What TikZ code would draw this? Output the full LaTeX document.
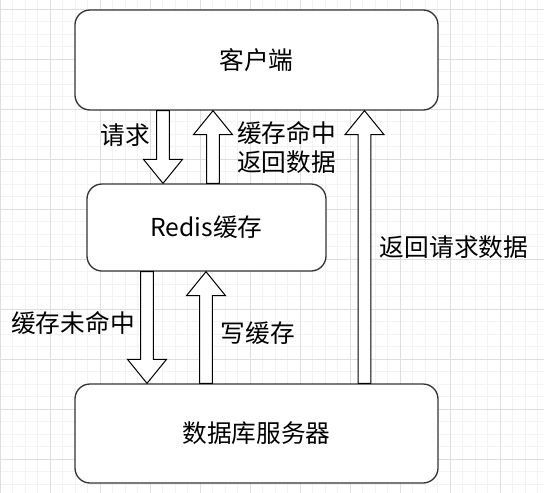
\documentclass[tikz,border=0pt]{standalone}
\usepackage{fontspec}
\setmainfont{Noto Sans CJK SC}
\usetikzlibrary{positioning,calc}
\definecolor{gridminor}{RGB}{243,243,243}
\definecolor{gridmajor}{RGB}{222,222,222}
\definecolor{boxline}{RGB}{51,51,51}

\tikzset{
  box/.style={draw=boxline, line width=1.3pt, rounded corners=15pt, fill=white,
    inner sep=0pt, font=\fontsize{24.7}{29}\selectfont},
  blockarr/.style={draw=black, line width=1pt, fill=white, line join=miter},
  lbl/.style={font=\fontsize{24.7}{29}\selectfont, inner sep=0pt}
}
% block arrow from #1 to #2 (tip at #2)
\newcommand{\blockarrow}[2]{%
  \coordinate (hb) at ($(#2)!24pt!(#1)$);
  \draw[blockarr] ($(#1)!6.3pt!90:(#2)$) -- ($(hb)!6.3pt!90:(#2)$)
    -- ($(hb)!19.5pt!90:(#2)$) -- (#2) -- ($(hb)!19.5pt!-90:(#2)$)
    -- ($(hb)!6.3pt!-90:(#2)$) -- ($(#1)!6.3pt!-90:(#2)$) -- cycle;}

\begin{document}
\begin{tikzpicture}[x=1pt,y=-1pt]
    \useasboundingbox (0,0) rectangle (544,493);
    \fill[white] (0,0) rectangle (544,493);
    % grid
    \foreach \x in {0,12.5,...,544}
      \draw[gridminor] (\x,0) -- (\x,493);
    \foreach \y in {-3.5,9,...,493}
      \draw[gridminor] (0,\y) -- (544,\y);
    \foreach \x in {0,50,...,544}
      \draw[gridmajor] (\x,0) -- (\x,493);
    \foreach \y in {9,59,...,493}
      \draw[gridmajor] (0,\y) -- (544,\y);
    % boxes
    \node[box, minimum width=363pt, minimum height=100pt] (client) at (256.5,60) {客户端};
    \node[box, minimum width=239pt, minimum height=87pt] (redis) at (206.5,227.5) {Redis缓存};
    \node[box, minimum width=363pt, minimum height=99pt] (db) at (256.5,433.5) {数据库服务器};
    % arrow ends
    \coordinate (reqA) at (163,0 |- client.south);
    \coordinate (reqB) at (163,0 |- redis.north);
    \coordinate (hitA) at (213,0 |- redis.north);
    \coordinate (hitB) at (213,0 |- client.south);
    \coordinate (missA) at (147,0 |- redis.south);
    \coordinate (missB) at (147,0 |- db.north);
    \coordinate (wrA) at (206,0 |- db.north);
    \coordinate (wrB) at (206,0 |- redis.south);
    \coordinate (retA) at (364.5,0 |- db.north);
    \coordinate (retB) at (364.5,0 |- client.south);
    % arrows
    \blockarrow{reqA}{reqB}
    \blockarrow{hitA}{hitB}
    \blockarrow{missA}{missB}
    \blockarrow{wrA}{wrB}
    \blockarrow{retA}{retB}
    % labels
    \node[lbl] (reqlbl) at (125,135) {请求};
    \node[lbl, align=left, anchor=west] (hitlbl) at (237,147) {缓存命中\\返回数据};
    \node[lbl] (misslbl) at (73,323) {缓存未命中};
    \node[lbl] (wrlbl) at (258,333) {写缓存};
    \node[lbl] (retlbl) at (454,247) {返回请求数据};
\end{tikzpicture}
\end{document}
